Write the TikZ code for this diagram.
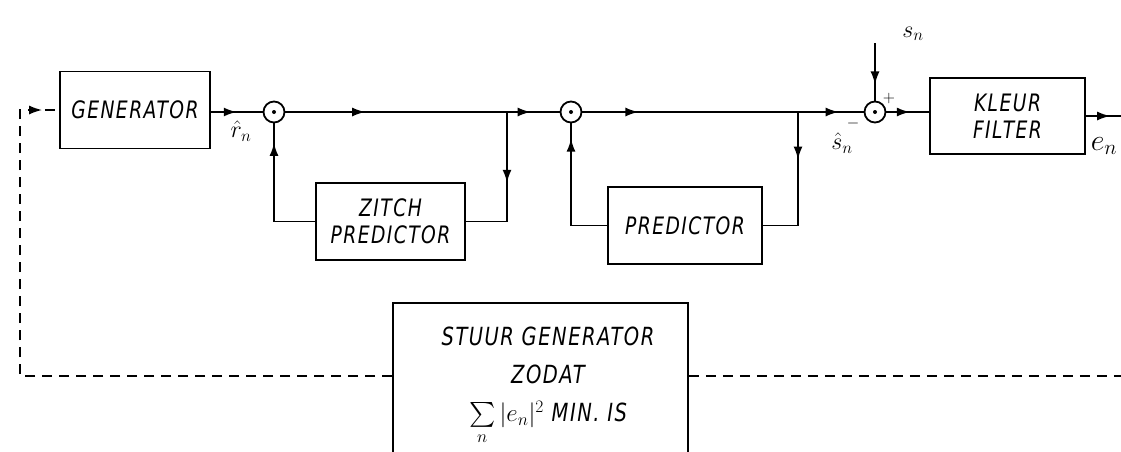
\RequirePackage{fix-cm}
\documentclass[tikz,border=0pt]{standalone}
\usepackage{amsmath}
\usepackage{exscale}
\usepackage{fontspec}
\newfontfamily\hand[FakeStretch=0.78,LetterSpace=6]{DejaVu Sans}
\usetikzlibrary{arrows.meta,decorations.markings}
\begin{document}
\begin{tikzpicture}[x=1pt,y=-1pt, line width=1.8pt,
  blk/.style={draw, rectangle, inner sep=0pt, font=\hand\itshape\fontsize{24}{27}\selectfont, align=center},
  sumr/.style={draw, circle, minimum size=21pt, inner sep=0pt},
  am/.style={postaction={decorate}, decoration={markings, mark=at position #1 with {\arrow{Latex[length=13pt,width=9pt]}}}},
  lbl/.style={inner sep=0pt, font=\fontsize{24}{28}\selectfont},
  fb/.style={dash pattern=on 10pt off 7pt}]
\useasboundingbox (0,0) rectangle (1121,451);
% blocks
\node[blk, minimum width=150pt, minimum height=77pt] (gen) at (135,110) {GENERATOR};
\node[sumr] (s1) at (274,112) {};
\coordinate (b1) at (507,112);
\node[blk, minimum width=149pt, minimum height=77pt] (zp) at (390.5,221.5) {ZITCH\\PREDICTOR};
\node[sumr] (s2) at (571,112) {};
\coordinate (b2) at (798,112);
\node[blk, minimum width=154pt, minimum height=77pt] (pr) at (685,225.5) {PREDICTOR};
\node[sumr] (s3) at (875,112) {};
\node[blk, minimum width=155pt, minimum height=76pt] (kf) at (1007.5,116) {KLEUR\\FILTER};
\coordinate (sn) at (875,43);
\coordinate (out) at (1130,116);
\node[draw, rectangle, minimum width=295pt, minimum height=180pt] (st) at (540.5,393) {};
\node[inner sep=0pt, align=center, anchor=north, font=\hand\itshape\fontsize{25}{38}\selectfont] (stt) at (548,326)
  {STUUR GENERATOR\\ZODAT\\$\sum\limits_n|e_n|^2$ MIN. IS};
\coordinate (fbL) at (20,376);
\coordinate (fbR) at (1130,376);
% summer marks
\fill (s1.center) circle (2pt);
\fill (s2.center) circle (2pt);
\fill (s3.center) circle (2pt);
% connectors
\draw[am=0.5] (gen.east |- s1) -- (s1.west);
\draw[am=0.36] (s1.east) -- (b1);
\draw[am=0.45] (b1) -- (s2.west);
\draw[am=0.47] (b1) |- (zp.east);
\draw[am=0.86] (zp.west) -| (s1.south);
\draw[am=0.26] (s2.east) -- (b2);
\draw[am=0.32] (b2) |- (pr.east);
\draw[am=0.89] (pr.west) -| (s2.south);
\draw[am=0.62] (b2) -- (s3.west);
\draw[am=0.55] (s3.east) -- (kf.west |- s3);
\draw[am=0.55] (kf.east) -- (out);
\draw[am=0.72] (sn) -- (s3.north);
\draw[fb, am=0.975] (st.west |- fbL) -- (fbL) -- (fbL |- gen.west) -- (gen.west);
\draw[fb] (st.east |- fbL) -- (fbR);
% labels
\node[lbl] (rl) at (241,131) {$\hat r_n$};
\node[lbl] (snl) at (913,34) {$s_n$};
\node[lbl, font=\fontsize{16}{18}\selectfont] (pl) at (889,98) {$+$};
\node[lbl, font=\fontsize{16}{18}\selectfont] (ml) at (853,123) {$-$};
\node[lbl] (shl) at (842,143) {$\hat s_n$};
\node[lbl, font=\fontsize{30}{34}\selectfont] (el) at (1104,146) {$e_n$};
\end{tikzpicture}
\end{document}
